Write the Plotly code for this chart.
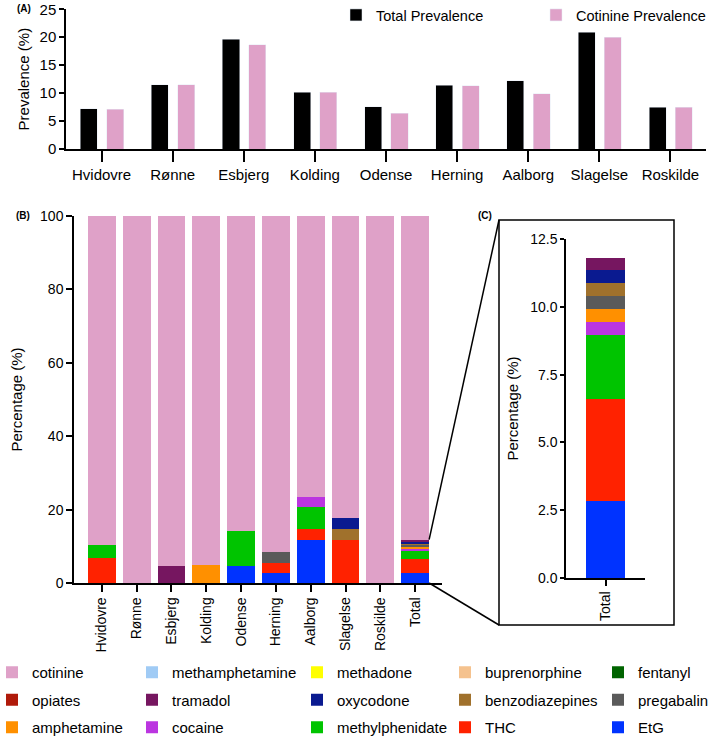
import plotly.graph_objects as go

W, H = 709, 736

# panel A
cities = ["Hvidovre", "Rønne", "Esbjerg", "Kolding", "Odense",
          "Herning", "Aalborg", "Slagelse", "Roskilde"]
total_prev = [7.2, 11.5, 19.6, 10.2, 7.6, 11.4, 12.2, 20.9, 7.5]
cotinine_prev = [7.1, 11.5, 18.7, 10.2, 6.4, 11.3, 9.9, 20.0, 7.5]

# panel B (cities + Total), percentages of positive samples
groups = cities + ["Total"]
etg = [0, 0, 0, 0, 4.7, 2.8, 11.7, 0, 0, 2.83]
thc = [6.8, 0, 0, 0, 0, 2.7, 2.9, 11.7, 0, 3.77]
methylphenidate = [3.5, 0, 0, 0, 9.5, 0, 6.0, 0, 0, 2.37]
cocaine = [0, 0, 0, 0, 0, 0, 2.9, 0, 0, 0.47]
amphetamine = [0, 0, 0, 4.9, 0, 0, 0, 0, 0, 0.47]
pregabalin = [0, 0, 0, 0, 0, 3.0, 0, 0, 0, 0.47]
benzodiazepines = [0, 0, 0, 0, 0, 0, 0, 2.9, 0, 0.48]
oxycodone = [0, 0, 0, 0, 0, 0, 0, 3.0, 0, 0.48]
tramadol = [0, 0, 4.7, 0, 0, 0, 0, 0, 0, 0.47]
opiates = [0] * 10
fentanyl = [0] * 10
buprenorphine = [0] * 10
methadone = [0] * 10
methamphetamine = [0] * 10
cotinine = [89.7, 100, 95.3, 95.1, 85.8, 91.5, 76.5, 82.4, 100, 88.19]

# bottom -> top stacking order: (name, values, colour, legend column, row)
drugs = [
    ("EtG", etg, "#0033FF", 5, 3),
    ("THC", thc, "#FF2200", 4, 3),
    ("methylphenidate", methylphenidate, "#00C400", 3, 3),
    ("cocaine", cocaine, "#BB35E0", 2, 3),
    ("amphetamine", amphetamine, "#FF9000", 1, 3),
    ("pregabalin", pregabalin, "#5A5A5A", 5, 2),
    ("benzodiazepines", benzodiazepines, "#A0712C", 4, 2),
    ("oxycodone", oxycodone, "#0A1A90", 3, 2),
    ("tramadol", tramadol, "#761660", 2, 2),
    ("opiates", opiates, "#B01A0A", 1, 2),
    ("fentanyl", fentanyl, "#006400", 5, 1),
    ("buprenorphine", buprenorphine, "#F5C28E", 4, 1),
    ("methadone", methadone, "#FFFF00", 3, 1),
    ("methamphetamine", methamphetamine, "#A0CBF5", 2, 1),
    ("cotinine", cotinine, "#DFA1C8", 1, 1),
]

FONT = "Liberation Sans, Arial, sans-serif"

def px(x):
    return x / W

def py(y):
    return 1 - y / H

fig = go.Figure()

# (A) grouped bars: pink on an overlaying axis so it does not stack
fig.add_trace(go.Bar(x=cities, y=total_prev, name="Total Prevalence",
                     marker_color="black", offset=-0.30, width=0.24,
                     xaxis="x", yaxis="y", legend="legend2"))
fig.add_trace(go.Bar(x=cities, y=cotinine_prev, name="Cotinine Prevalence",
                     marker_color="#DFA1C8", offset=0.07, width=0.24,
                     xaxis="x4", yaxis="y", legend="legend8"))

# (B) stacked bars, (C) zoom of the Total bar
for name, vals, col, lg, row in drugs:
    fig.add_trace(go.Bar(x=groups, y=vals, name=name, marker_color=col,
                         marker_line_width=0, width=0.8,
                         xaxis="x2", yaxis="y2", legendgroup=name,
                         legendrank=row, legend="legend%d" % (lg + 2)))
    if name != "cotinine":
        fig.add_trace(go.Bar(x=["Total"], y=[vals[-1]], name=name,
                             marker_color=col, marker_line_width=0, width=0.5,
                             xaxis="x3", yaxis="y3", legendgroup=name,
                             showlegend=False))

axis_common = dict(showline=True, linecolor="black", linewidth=1.5,
                   ticks="outside", tickcolor="black", tickwidth=1.5,
                   showgrid=False, zeroline=False, automargin=False,
                   tickfont=dict(family=FONT, size=14, color="black"))

xrA = [-0.5, 8.5]
fig.update_layout(
    width=W, height=H,
    margin=dict(l=0, r=0, t=0, b=0, autoexpand=False),
    paper_bgcolor="white", plot_bgcolor="white",
    barmode="stack",
    font=dict(family=FONT, size=14, color="black"),
    xaxis=dict(axis_common, domain=[px(66), px(706)], range=xrA,
               anchor="y", ticklen=11, tickangle=0,
               tickfont=dict(family=FONT, size=15, color="black")),
    xaxis4=dict(overlaying="x", range=xrA, visible=False, anchor="y"),
    yaxis=dict(axis_common, domain=[py(149), py(9.3)], range=[0, 25],
               dtick=5, ticklen=5, anchor="x",
               tickfont=dict(family=FONT, size=15, color="black"),
               title=dict(text="Prevalence (%)", standoff=6,
                          font=dict(family=FONT, size=15))),
    xaxis2=dict(axis_common, domain=[px(74), px(442)], range=[-0.8, 9.77],
                anchor="y2", ticklen=7, tickangle=-90),
    yaxis2=dict(axis_common, domain=[py(583), py(216)], range=[0, 100],
                dtick=20, ticklen=6, anchor="x2",
                title=dict(text="Percentage (%)", standoff=14,
                           font=dict(family=FONT, size=15))),
    xaxis3=dict(axis_common, domain=[px(566), px(645)], range=[-0.5, 0.5],
                anchor="y3", ticklen=6, tickangle=-90),
    yaxis3=dict(axis_common, domain=[py(578), py(239)], range=[0, 12.5],
                dtick=2.5, tickformat=".1f", ticklen=4, anchor="x3",
                title=dict(text="Percentage (%)", standoff=8,
                           font=dict(family=FONT, size=15))),
)

# panel A legend: one entry per legend so each sits where the reference has it
for key, lx in [("legend2", 336), ("legend8", 536)]:
    fig.update_layout({key: dict(
        x=px(lx), y=py(-1), xanchor="left", yanchor="top",
        bgcolor="rgba(0,0,0,0)", font=dict(family=FONT, size=14.5))})

# drug legend: five columns, one legend each
col_x = [-8, 132, 297, 445, 598]
for i, cx in enumerate(col_x):
    fig.update_layout({"legend%d" % (i + 3): dict(
        x=px(cx), y=py(656), xanchor="left", yanchor="top",
        bgcolor="rgba(0,0,0,0)",
        traceorder="grouped", tracegroupgap=5,
        font=dict(family=FONT, size=15))})

# zoom box for (C) and the connecting lines from the Total bar
top_total = sum(v[-1] for n, v, c, l, r in drugs if n != "cotinine")
d2 = fig.layout.yaxis2.domain
bar_top = d2[0] + top_total / 100 * (d2[1] - d2[0])
xd = fig.layout.xaxis2.domain
xr = fig.layout.xaxis2.range
bar_right = xd[0] + (9.4 - xr[0]) / (xr[1] - xr[0]) * (xd[1] - xd[0])
line = dict(color="black", width=1.5)
fig.add_shape(type="rect", xref="paper", yref="paper",
              x0=px(499), x1=px(674), y0=py(625), y1=py(220), line=line)
fig.add_shape(type="line", xref="paper", yref="paper",
              x0=bar_right, y0=bar_top, x1=px(499), y1=py(220), line=line)
fig.add_shape(type="line", xref="paper", yref="paper",
              x0=bar_right, y0=d2[0], x1=px(499), y1=py(625), line=line)

for label, lx, ly in [("(A)", 15, 8), ("(B)", 14, 216), ("(C)", 476, 215)]:
    fig.add_annotation(text="<b>%s</b>" % label, x=px(lx), y=py(ly),
                       xref="paper", yref="paper", showarrow=False,
                       xanchor="left", yanchor="middle",
                       font=dict(family=FONT, size=10))

# the page body has a default 8px margin; drop it so the figure fills the window
fig.write_html("out.html", config={"displayModeBar": False},
               post_script="document.body.style.margin='0';")
